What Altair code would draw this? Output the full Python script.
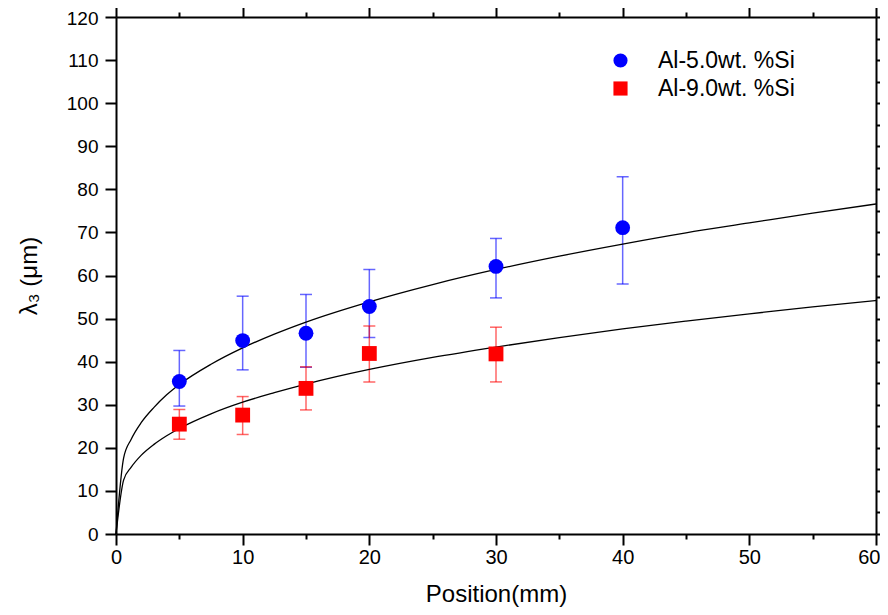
import altair as alt
import pandas as pd

# ---- data ----
pos_blue = [5, 10, 15, 20, 30, 40]
lam_blue = [35.4, 44.9, 46.6, 52.8, 62.1, 71.1]
blue_lo = [29.7, 38.1, 38.7, 45.6, 54.8, 58.0]
blue_hi = [42.6, 55.2, 55.6, 61.4, 68.6, 82.9]

pos_red = [5, 10, 15, 20, 30]
lam_red = [25.5, 27.6, 33.8, 41.9, 41.8]
red_lo = [22.0, 23.1, 28.8, 35.3, 35.3]
red_hi = [28.9, 31.9, 38.8, 48.3, 48.0]

# fitted curves
fit_x = [0, 0.6, 1.2, 2, 3, 4, 5, 7.5, 10, 12.5, 15, 20, 25, 30, 35, 40, 45, 50, 55, 60]
fit_blue = [0, 17.6, 22.0, 25.9, 29.4, 32.3, 34.7, 39.4, 43.2, 46.4, 49.2, 53.9, 57.9,
            61.4, 64.5, 67.3, 69.9, 72.2, 74.5, 76.6]
fit_red = [0, 12.5, 15.5, 18.3, 20.8, 22.8, 24.5, 27.9, 30.6, 32.8, 34.8, 38.2, 41.0,
           43.4, 45.6, 47.6, 49.4, 51.1, 52.7, 54.2]

series_names = ["Al-5.0wt. %Si", "Al-9.0wt. %Si"]
series_colors = ["#0000ff", "#ff0000"]
x_ticks = list(range(0, 61, 5))
y_ticks = list(range(0, 121, 5))

pts = pd.DataFrame({
    "pos": pos_blue + pos_red,
    "lam": lam_blue + lam_red,
    "lo": blue_lo + red_lo,
    "hi": blue_hi + red_hi,
    "series": [series_names[0]] * len(pos_blue) + [series_names[1]] * len(pos_red),
})
fit = pd.DataFrame({
    "pos": fit_x + fit_x,
    "lam": fit_blue + fit_red,
    "series": [series_names[0]] * len(fit_x) + [series_names[1]] * len(fit_x),
})

FONT = "Liberation Sans"
xdom = alt.Scale(domain=[0, 60], nice=False, zero=False)
ydom = alt.Scale(domain=[0, 120], nice=False, zero=False)

tick_size = {"condition": {"test": "datum.value % 10 !== 0", "value": 5}, "value": 11}

def xaxis(orient, labels, title):
    kw = dict(orient=orient, values=x_ticks, grid=False, domainColor="black", domainWidth=2,
              tickColor="black", tickWidth=2, tickSize=tick_size, labels=labels,
              labelFont=FONT, labelFontSize=20, labelColor="black", labelPadding=2,
              labelAlign={"condition": {"test": "datum.value === 60", "value": "right"},
                          "value": "center"},
              labelOffset={"condition": {"test": "datum.value === 60", "value": 4},
                           "value": 0},
              labelExpr="datum.value % 10 === 0 ? datum.label : ''", labelFlush=False)
    if title:
        kw.update(title=title, titleFont=FONT, titleFontSize=24, titleFontWeight="normal",
                  titleColor="black", titlePadding=15)
    else:
        kw.update(title=None)
    return alt.Axis(**kw)

def yaxis(orient, labels, title):
    kw = dict(orient=orient, values=y_ticks, grid=False, domainColor="black", domainWidth=2,
              tickColor="black", tickWidth=2, tickSize=tick_size, labels=labels,
              labelFont=FONT, labelFontSize=19, labelColor="black", labelPadding=7,
              labelOffset={"condition": {"test": "datum.value === 120", "value": 1},
                           "value": 0},
              labelExpr="datum.value % 10 === 0 ? datum.label : ''", labelFlush=False)
    if title:
        kw.update(title=title, titleFont=FONT, titleFontSize=24, titleFontWeight="normal",
                  titleColor="black", titlePadding=25)
    else:
        kw.update(title=None)
    return alt.Axis(**kw)

layers = []
for i, (name, col) in enumerate(zip(series_names, series_colors)):
    b = alt.Chart(pts).transform_filter(alt.datum.series == name)
    if i == 0:
        xenc = alt.X("pos:Q", scale=xdom, axis=xaxis("bottom", True, "Position(mm)"))
        yenc = alt.Y("lo:Q", scale=ydom, axis=yaxis("left", True, "λ₃  (μm)"))
    else:
        xenc = alt.X("pos:Q", scale=xdom)
        yenc = alt.Y("lo:Q", scale=ydom)
    layers.append(b.mark_rule(strokeWidth=1.5, opacity=0.6, color=col).encode(
        x=xenc, y=yenc, y2="hi:Q"))
    layers.append(b.mark_tick(orient="horizontal", size=12, thickness=1.5, opacity=0.6,
                              color=col).encode(
        x=alt.X("pos:Q", scale=xdom), y=alt.Y("lo:Q", scale=ydom)))
    layers.append(b.mark_tick(orient="horizontal", size=12, thickness=1.5, opacity=0.6,
                              color=col).encode(
        x=alt.X("pos:Q", scale=xdom), y=alt.Y("hi:Q", scale=ydom)))

lines = alt.Chart(fit).mark_line(color="black", strokeWidth=1.3, interpolate="monotone").encode(
    x=alt.X("pos:Q", scale=xdom), y=alt.Y("lam:Q", scale=ydom),
    detail="series:N",
)
layers.append(lines)

leg = alt.Legend(title=None, orient="none", legendX=493, legendY=32,
                 labelFont=FONT, labelFontSize=23, labelColor="black",
                 symbolSize=200, labelOffset=26, rowPadding=4,
                 symbolStrokeWidth=0, symbolOpacity=1)
points = alt.Chart(pts).mark_point(filled=True, size=220, opacity=1).encode(
    x=alt.X("pos:Q", scale=xdom), y=alt.Y("lam:Q", scale=ydom),
    color=alt.Color("series:N", scale=alt.Scale(domain=series_names, range=series_colors),
                    legend=leg),
    shape=alt.Shape("series:N", scale=alt.Scale(domain=series_names, range=["circle", "square"]),
                    legend=leg),
)
layers.append(points)

main = alt.layer(*layers)

mirror = alt.Chart(fit).mark_line(opacity=0).encode(
    x=alt.X("pos:Q", scale=xdom, axis=xaxis("top", False, None)),
    y=alt.Y("lam:Q", scale=ydom, axis=yaxis("right", False, None)),
)

chart = alt.layer(main, mirror).resolve_scale(x="independent", y="independent").properties(
    width=760, height=517, autosize="none",
    padding={"left": 108, "top": 9, "right": 4, "bottom": 73},
).configure_view(stroke=None).configure(background="white")

chart.save("out.html", embed_options={"renderer": "svg", "actions": False})
